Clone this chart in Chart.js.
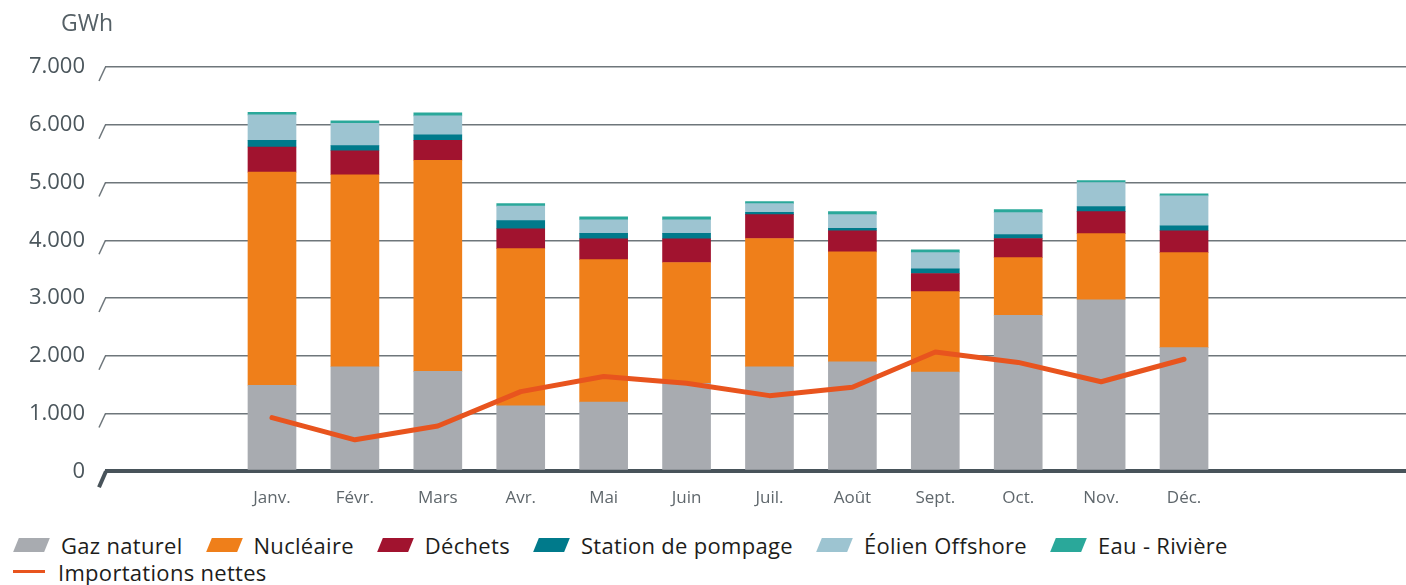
<!DOCTYPE html>
<html><head><meta charset="utf-8">
<script src="https://cdn.jsdelivr.net/npm/chart.js@4/dist/chart.umd.min.js"></script>
<style>
html,body{margin:0;padding:0;background:#fff;overflow:hidden;}
#wrap{position:relative;width:1406px;height:585px;}
#cbox{position:absolute;left:0;top:0;width:1406px;height:520px;}
#legend{position:absolute;left:13px;top:531px;width:1300px;display:flex;flex-wrap:wrap;font-family:'Open Sans',sans-serif;font-size:22px;letter-spacing:0.3px;color:#1d1d1b;}
.item{display:flex;align-items:center;height:27px;margin-right:23px;white-space:nowrap;}
.sw{width:31px;height:14px;transform:skewX(-22deg);margin-left:3px;margin-right:14px;}
.ln{width:32px;height:3px;margin-right:13px;}
.brk{flex-basis:100%;height:0;}
</style></head><body>
<div id="wrap"><div id="cbox"><canvas id="c"></canvas></div><div id="legend"></div></div>
<script>
const months = ['Janv.','Févr.','Mars','Avr.','Mai','Juin','Juil.','Août','Sept.','Oct.','Nov.','Déc.'];
const gazNaturel = [1490, 1810, 1730, 1135, 1200, 1525, 1810, 1895, 1720, 2700, 2970, 2140];
const nucleaire = [3690, 3325, 3655, 2720, 2465, 2090, 2220, 1905, 1390, 1000, 1145, 1645];
const dechets = [435, 415, 345, 345, 360, 410, 415, 365, 315, 330, 380, 380];
const stationPompage = [115, 90, 95, 140, 95, 95, 40, 40, 80, 70, 90, 85];
const eolienOffshore = [440, 385, 330, 250, 235, 235, 150, 240, 280, 380, 415, 520];
const eauRiviere = [45, 45, 50, 45, 50, 50, 35, 50, 50, 50, 35, 35];
const importationsNettes = [930, 545, 785, 1380, 1640, 1525, 1310, 1455, 2065, 1885, 1550, 1940];
const yTicks = [0, 1000, 2000, 3000, 4000, 5000, 6000, 7000];

const toXY = arr => arr.map((v, i) => ({x: i, y: v}));
const barSeries = [
  ['Gaz naturel', gazNaturel, '#a8abb0'],
  ['Nucléaire', nucleaire, '#ef7f1a'],
  ['Déchets', dechets, '#a1132f'],
  ['Station de pompage', stationPompage, '#007a8b'],
  ['Éolien Offshore', eolienOffshore, '#9dc4d1'],
  ['Eau - Rivière', eauRiviere, '#2aa89a']
];
const datasets = barSeries.map(([label, data, color]) => ({
  type: 'bar', label, data: toXY(data), backgroundColor: color, borderWidth: 0,
  barThickness: 48, order: 1
}));
datasets.push({
  type: 'line', label: 'Importations nettes', data: toXY(importationsNettes),
  borderColor: '#e8541e', backgroundColor: '#e8541e', borderWidth: 5,
  pointRadius: 0, tension: 0, order: 0, borderCapStyle: 'round', borderJoinStyle: 'round'
});

const fmt = v => String(v).replace(/\B(?=(\d{3})+(?!\d))/g, '.');

const decor = {
  id: 'decor',
  afterDraw(chart) {
    const ctx = chart.ctx, ys = chart.scales.y, left = chart.chartArea.left;
    ctx.save();
    ctx.lineCap = 'butt';
    yTicks.forEach(v => {
      const py = ys.getPixelForValue(v);
      ctx.beginPath();
      if (v === 0) {
        ctx.strokeStyle = '#48535a'; ctx.lineWidth = 4;
        ctx.moveTo(left + 1, py); ctx.lineTo(left - 6, py + 16);
      } else {
        ctx.strokeStyle = '#6e767b'; ctx.lineWidth = 1.5;
        ctx.moveTo(left + 0.5, py); ctx.lineTo(left - 6, py + 14);
      }
      ctx.stroke();
    });
    ctx.fillStyle = '#556066';
    ctx.font = '23px "Open Sans"';
    ctx.textAlign = 'right';
    ctx.textBaseline = 'middle';
    ctx.fillText('GWh', left + 8, 24);
    ctx.restore();
  }
};

const htmlLegend = {
  id: 'htmlLegend',
  afterUpdate(chart) {
    const box = document.getElementById('legend');
    box.innerHTML = '';
    chart.data.datasets.forEach(ds => {
      if (ds.type === 'line') { const b = document.createElement('div'); b.className = 'brk'; box.appendChild(b); }
      const it = document.createElement('div'); it.className = 'item';
      const sw = document.createElement('span');
      sw.className = ds.type === 'line' ? 'ln' : 'sw';
      sw.style.background = ds.type === 'line' ? ds.borderColor : ds.backgroundColor;
      const tx = document.createElement('span'); tx.textContent = ds.label;
      it.appendChild(sw); it.appendChild(tx); box.appendChild(it);
    });
  }
};

new Chart(document.getElementById('c'), {
  data: { datasets },
  options: {
    responsive: true, maintainAspectRatio: false, animation: false,
    layout: { padding: { top: 67, right: 0, left: 0, bottom: 0 } },
    plugins: { legend: { display: false }, tooltip: { enabled: false } },
    scales: {
      x: {
        type: 'linear', stacked: true, min: -2.014, max: 13.677, offset: false,
        grid: { display: false, drawTicks: false }, border: { display: false },
        afterFit: s => { s.height = 48.7; },
        ticks: {
          stepSize: 1, autoSkip: false, includeBounds: false, maxRotation: 0, padding: 17,
          color: '#5f676c', font: { family: 'Open Sans', size: 17 },
          callback: v => (Number.isInteger(v) && v >= 0 && v < months.length) ? months[v] : ''
        }
      },
      y: {
        stacked: true, min: 0, max: 7000,
        afterFit: s => { s.width = 105; },
        afterBuildTicks: s => { s.ticks = yTicks.map(v => ({value: v})); },
        grid: {
          drawTicks: false,
          color: c => c.tick && c.tick.value === 0 ? '#48535a' : '#6e767b',
          lineWidth: c => c.tick && c.tick.value === 0 ? 4 : 1.5
        },
        border: { display: false },
        ticks: { padding: 20, color: '#4b565c', font: { family: 'Open Sans', size: 22 }, callback: v => fmt(v) }
      }
    }
  },
  plugins: [decor, htmlLegend]
});
</script>
</body></html>
